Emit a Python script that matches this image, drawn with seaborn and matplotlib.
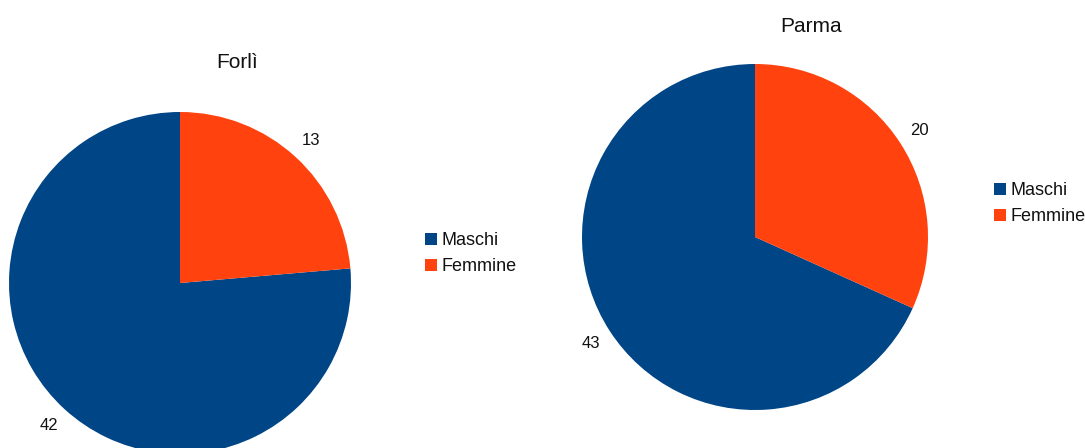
import matplotlib
matplotlib.use("Agg")
import matplotlib.pyplot as plt
from matplotlib.patches import Patch
import seaborn as sns

# Data
categories = ["Maschi", "Femmine"]
cities = ["Forlì", "Parma"]
forli_values = [42, 13]
parma_values = [43, 20]
colors = ["#004586", "#ff420e"]

sns.set_theme(style="white")
plt.rcParams["font.family"] = ["Liberation Sans", "DejaVu Sans"]

W, H = 1085, 448
fig = plt.figure(figsize=(W / 100, H / 100), dpi=100)
fig.patch.set_facecolor("white")


def px_axes(cx, cy, r):
    """Axes whose [-1, 1] box spans a circle of radius r px centred at (cx, cy)."""
    left = (cx - r) / W
    bottom = (H - (cy + r)) / H
    ax = fig.add_axes([left, bottom, 2 * r / W, 2 * r / H])
    ax.set_xlim(-1, 1)
    ax.set_ylim(-1, 1)
    ax.set_aspect("equal")
    ax.axis("off")
    return ax


def draw_pie(ax, values, pct_dist):
    total = sum(values)
    ax.pie(values, colors=colors, startangle=90, counterclock=True,
           radius=1.0, frame=False,
           wedgeprops=dict(linewidth=0),
           autopct=lambda p: f"{round(p * total / 100)}",
           pctdistance=pct_dist,
           textprops=dict(fontsize=12, color="#111111"))
    ax.set_xlim(-1, 1)
    ax.set_ylim(-1, 1)


specs = [
    # values, centre x, centre y, radius, title pos, legend pos
    (forli_values, 180, 283, 171, (237, 63), (425, 232)),
    (parma_values, 755, 237, 173, (811, 27), (994, 182)),
]

handles = [Patch(facecolor=c, edgecolor="none") for c in colors]

for city, (vals, cx, cy, r, tpos, lpos) in zip(cities, specs):
    ax = px_axes(cx, cy, r)
    draw_pie(ax, vals, 1.13)
    fig.text(tpos[0] / W, 1 - tpos[1] / H, city, ha="center", va="center",
             fontsize=15, color="#111111")
    fig.legend(handles, categories, loc="upper left",
               bbox_to_anchor=(lpos[0] / W, 1 - lpos[1] / H),
               frameon=False, fontsize=13, borderpad=0, borderaxespad=0,
               handlelength=0.65, handleheight=0.65, handletextpad=0.25,
               labelspacing=0.5, labelcolor="#111111")

fig.savefig("out.png", dpi=100, facecolor="white")
